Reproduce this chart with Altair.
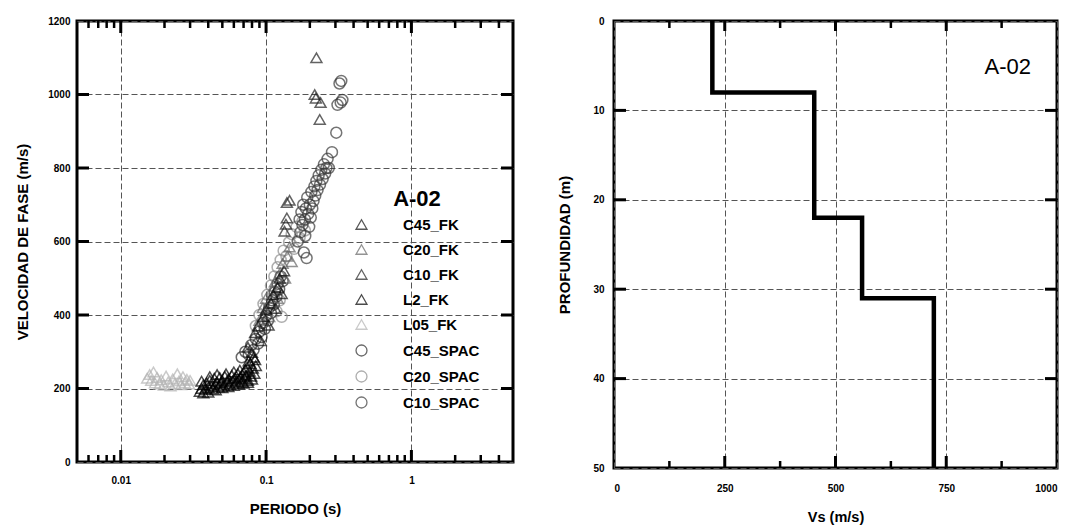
import altair as alt
import pandas as pd

FONT = "Liberation Sans"

# ---------------- left panel data: dispersion curves ----------------
series_names = ["C45_FK", "C20_FK", "C10_FK", "L2_FK", "L05_FK",
                "C45_SPAC", "C20_SPAC", "C10_SPAC"]
series_shapes = ["triangle-up"] * 5 + ["circle"] * 3
series_colors = ["#111111", "#666666", "#222222", "#000000", "#b4b4b4",
                 "#2a2a2a", "#8c8c8c", "#3a3a3a"]

L05_T = [0.0152, 0.0158, 0.0162, 0.0168, 0.0172, 0.0178, 0.0185, 0.019, 0.0198, 0.0205, 0.0212,
         0.022, 0.0228, 0.0236, 0.0245, 0.0252, 0.026, 0.0268, 0.0276, 0.0285, 0.0295, 0.030]
L05_V = [228, 238, 222, 245, 215, 230, 212, 224, 209, 234, 218,
         207, 226, 213, 240, 221, 210, 232, 215, 225, 212, 222]

L2_T = [0.035, 0.036, 0.037, 0.037, 0.038, 0.039, 0.040, 0.041, 0.042, 0.043, 0.044, 0.045, 0.046,
        0.047, 0.048, 0.049, 0.050, 0.051, 0.052, 0.054, 0.055, 0.056, 0.058, 0.059, 0.061, 0.062,
        0.064, 0.065, 0.067, 0.068, 0.070, 0.071, 0.073, 0.074, 0.075, 0.077, 0.078, 0.079, 0.081,
        0.083, 0.084, 0.085,
        0.036, 0.040, 0.045, 0.050, 0.055, 0.060, 0.065, 0.070, 0.075, 0.080, 0.082, 0.076,
        0.072, 0.066, 0.060, 0.053, 0.046, 0.041]
L2_V = [192, 200, 188, 210, 197, 215, 203, 222, 207, 199, 228, 212, 218,
        204, 230, 215, 222, 208, 233, 218, 226, 212, 236, 221, 229, 216,
        240, 225, 232, 219, 244, 228, 236, 258, 222, 247, 268, 233, 255,
        241, 278, 262,
        220, 190, 196, 202, 205, 208, 212, 214, 216, 225, 285, 275,
        252, 250, 245, 240, 238, 232]

C45FK_T = [0.075, 0.080, 0.084, 0.088, 0.092, 0.096, 0.100, 0.104, 0.108, 0.112, 0.116, 0.120,
           0.124, 0.128, 0.133]
C45FK_V = [312, 298, 352, 370, 330, 395, 415, 372, 432, 455, 418, 475,
           500, 458, 520]

C20FK_T = [0.090, 0.095, 0.100, 0.105, 0.110, 0.115, 0.120, 0.125, 0.130, 0.135, 0.140, 0.145, 0.150]
C20FK_V = [385, 420, 445, 395, 470, 490, 445, 515, 540, 500, 560, 585, 545]

C10FK_T = [0.134, 0.137, 0.139, 0.139, 0.145, 0.216, 0.220, 0.222, 0.234, 0.237]
C10FK_V = [628, 647, 664, 706, 712, 1000, 990, 1100, 932, 978]

C45SP_T = [0.068, 0.072, 0.076, 0.079, 0.082, 0.085, 0.088, 0.090, 0.093, 0.095, 0.098, 0.100,
           0.103, 0.105, 0.108, 0.110, 0.113, 0.115, 0.118, 0.120, 0.123, 0.126, 0.130]
C45SP_V = [285, 300, 292, 318, 305, 335, 322, 355, 340, 378, 362, 398,
           385, 420, 405, 440, 428, 462, 450, 485, 470, 505, 492]

C20SP_T = [0.085, 0.090, 0.096, 0.102, 0.108, 0.114, 0.120, 0.126, 0.132, 0.138, 0.144, 0.150,
           0.156, 0.162, 0.170, 0.178, 0.185, 0.118, 0.124, 0.128]
C20SP_V = [370, 400, 430, 455, 480, 505, 530, 550, 575, 560, 598, 620,
           580, 640, 610, 655, 630, 410, 440, 395]

C10SP_T = [0.165, 0.170, 0.172, 0.175, 0.178, 0.180, 0.182, 0.185, 0.186, 0.188, 0.190, 0.192,
           0.195, 0.198, 0.200, 0.203, 0.205, 0.208, 0.212, 0.215, 0.218, 0.222, 0.226, 0.230,
           0.235, 0.240, 0.245, 0.250, 0.255, 0.260, 0.265, 0.270, 0.284, 0.304, 0.310, 0.326,
           0.335, 0.329, 0.320]
C10SP_V = [600, 660, 625, 680, 645, 700, 570, 660, 615, 690, 555, 720,
           675, 640, 700, 665, 735, 690, 710, 750, 725, 765, 740, 780,
           755, 795, 770, 810, 785, 800, 825, 800, 843, 896, 972, 978,
           985, 1037, 1030]

# tick positions
x_major = [0.01, 0.1, 1]
x_minor = [0.006, 0.007, 0.008, 0.009, 0.02, 0.03, 0.04, 0.05, 0.06, 0.07, 0.08, 0.09,
           0.2, 0.3, 0.4, 0.5, 0.6, 0.7, 0.8, 0.9, 2, 3, 4]
y_major = [200, 400, 600, 800, 1000]
y_labels = [0, 200, 400, 600, 800, 1000, 1200]

# ---------------- right panel data: Vs profile ----------------
layer_vs = [222, 452, 560, 722]
layer_top = [0, 8, 22, 31]
layer_bottom = [8, 22, 31, 50]
vs_major = [250, 500, 750]
vs_minor = [125, 375, 625, 875]
z_major = [10, 20, 30, 40]
vs_labels = [0, 250, 500, 750, 1000]
z_labels = [0, 10, 20, 30, 40, 50]

# ---------------- build tables ----------------
rows = []
order_draw = [("L05_FK", L05_T, L05_V), ("C20_SPAC", C20SP_T, C20SP_V),
              ("C10_SPAC", C10SP_T, C10SP_V), ("C45_SPAC", C45SP_T, C45SP_V),
              ("C20_FK", C20FK_T, C20FK_V), ("C45_FK", C45FK_T, C45FK_V),
              ("C10_FK", C10FK_T, C10FK_V), ("L2_FK", L2_T, L2_V)]
for k, (name, T, V) in enumerate(order_draw):
    for t, v in zip(T, V):
        rows.append({"serie": name, "T": t, "V": v, "k": k})
df = pd.DataFrame(rows)

prof = []
for i, (vs, top, bot) in enumerate(zip(layer_vs, layer_top, layer_bottom)):
    prof.append({"o": 2 * i, "Vs": vs, "z": top})
    prof.append({"o": 2 * i + 1, "Vs": vs, "z": bot})
prof = pd.DataFrame(prof)

LW, LH = 436, 441
RW, RH = 443, 447

xs = alt.Scale(type="log", domain=[0.005, 5])
ys = alt.Scale(domain=[0, 1200])
x_axis = alt.Axis(values=x_major, format="~g", title="PERIODO (s)", labelPadding=13, titlePadding=16)
y_axis = alt.Axis(values=y_labels, format="d", title="VELOCIDAD DE FASE (m/s)",
                  labelPadding=7, titlePadding=17)

vss = alt.Scale(domain=[0, 1000])
zs = alt.Scale(domain=[0, 50], reverse=True)
vs_axis = alt.Axis(values=vs_labels, format="d", title="Vs (m/s)", labelPadding=15,
                   titlePadding=17, titleFontSize=14.5)
z_axis = alt.Axis(values=z_labels, format="d", title="PROFUNDIDAD (m)", labelPadding=10,
                  titlePadding=20)

legend = alt.Legend(title="A-02", orient="none", legendX=277, legendY=168,
                    titleFontSize=22, titleFont=FONT, titleFontWeight="bold",
                    titleAnchor="middle", titlePadding=6, titleColor="black",
                    labelFontSize=15, labelFont=FONT, labelFontWeight="bold",
                    labelColor="black", labelOffset=34, rowPadding=9,
                    symbolSize=120, symbolStrokeWidth=1.3, symbolFillColor="transparent")

points = alt.Chart(df).mark_point(filled=False, size=120, strokeWidth=1.5).encode(
    x=alt.X("T:Q", scale=xs, axis=x_axis),
    y=alt.Y("V:Q", scale=ys, axis=y_axis),
    shape=alt.Shape("serie:N", scale=alt.Scale(domain=series_names, range=series_shapes),
                    legend=legend),
    color=alt.Color("serie:N", scale=alt.Scale(domain=series_names, range=series_colors),
                    legend=legend),
    order=alt.Order("k:Q"),
)


def vticks(vals, field, scale, axis, h, length, width, top):
    d = pd.DataFrame({field: vals})
    if top:
        yv, y2v = 0, length
    else:
        yv, y2v = h, h - length
    return alt.Chart(d).mark_rule(color="black", strokeWidth=width).encode(
        x=alt.X(field + ":Q", scale=scale, axis=axis),
        y=alt.value(yv), y2=alt.value(y2v))


def hticks(vals, field, scale, axis, w, length, width, right):
    d = pd.DataFrame({field: vals})
    if right:
        xv, x2v = w, w - length
    else:
        xv, x2v = 0, length
    return alt.Chart(d).mark_rule(color="black", strokeWidth=width).encode(
        y=alt.Y(field + ":Q", scale=scale, axis=axis),
        x=alt.value(xv), x2=alt.value(x2v))


left = alt.layer(
    points,
    vticks(x_major, "T", xs, x_axis, LH, 12, 3, False),
    vticks(x_major, "T", xs, x_axis, LH, 12, 3, True),
    vticks(x_minor, "T", xs, x_axis, LH, 7, 2.5, False),
    vticks(x_minor, "T", xs, x_axis, LH, 7, 2.5, True),
    hticks(y_major, "V", ys, y_axis, LW, 12, 3, False),
    hticks(y_major, "V", ys, y_axis, LW, 12, 3, True),
).properties(width=LW, height=LH)

profile = alt.Chart(prof).mark_line(color="black", strokeWidth=4.5, strokeJoin="miter").encode(
    x=alt.X("Vs:Q", scale=vss, axis=vs_axis),
    y=alt.Y("z:Q", scale=zs, axis=z_axis),
    order="o:Q",
)

tag = alt.Chart(pd.DataFrame({"t": ["A-02"], "Vs": [889], "z": [5.2]})).mark_text(
    font=FONT, fontSize=22, color="black").encode(
    x=alt.X("Vs:Q", scale=vss, axis=vs_axis), y=alt.Y("z:Q", scale=zs, axis=z_axis), text="t:N")

right = alt.layer(
    profile, tag,
    vticks(vs_major, "Vs", vss, vs_axis, RH, 12, 3, False),
    vticks(vs_major, "Vs", vss, vs_axis, RH, 10, 3, True),
    vticks(vs_minor, "Vs", vss, vs_axis, RH, 7, 2.5, False),
    vticks(vs_minor, "Vs", vss, vs_axis, RH, 7, 2.5, True),
    hticks(z_major, "z", zs, z_axis, RW, 12, 3, False),
    hticks(z_major, "z", zs, z_axis, RW, 12, 3, True),
).properties(width=RW, height=RH)

chart = alt.hconcat(left, right, spacing=40).properties(
    padding={"left": 6, "top": 2, "right": 0, "bottom": 0}
).configure_view(stroke="black", strokeWidth=3).configure_axis(
    domain=False, ticks=False, grid=True, gridColor="#555555", gridDash=[6, 3], gridWidth=1,
    labelFont=FONT, labelFontWeight="bold", labelFontSize=10, labelColor="black",
    titleFont=FONT, titleFontWeight="bold", titleFontSize=15, titleColor="black",
)

chart.save("out.html", embed_options={"renderer": "svg", "actions": False})
